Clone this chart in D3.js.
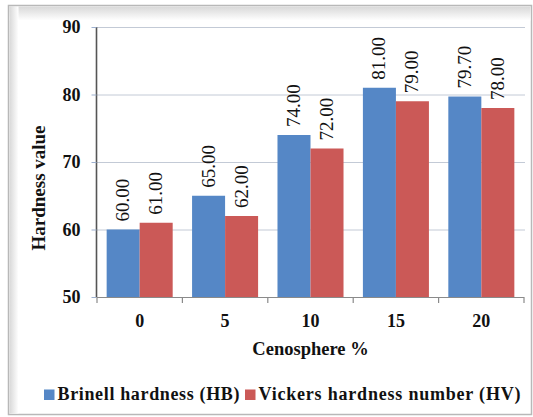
<!DOCTYPE html>
<html>
<head>
<meta charset="utf-8">
<script src="https://cdn.jsdelivr.net/npm/d3@7"></script>
<style>
  html, body { margin: 0; padding: 0; background: #fff; }
  svg { display: block; }
  text { font-family: "Liberation Serif", "Times New Roman", serif; }
</style>
</head>
<body>
<svg id="chart" width="533" height="417"></svg>
<script>
const categories = ["0", "5", "10", "15", "20"];
const seriesNames = ["Brinell hardness (HB)", "Vickers hardness number (HV)"];
const brinell = [60.00, 65.00, 74.00, 81.00, 79.70];
const vickers = [61.00, 62.00, 72.00, 79.00, 78.00];
const labelsHB = ["60.00", "65.00", "74.00", "81.00", "79.70"];
const labelsHV = ["61.00", "62.00", "72.00", "79.00", "78.00"];
const yTicks = [50, 60, 70, 80, 90];
const colors = ["#5587c6", "#cb5957"];

const svg = d3.select("#chart");
const W = 533, H = 417;

// frame with inner shadow
const defs = svg.append("defs");
const gTop = defs.append("linearGradient").attr("id", "shTop").attr("x1", 0).attr("y1", 0).attr("x2", 0).attr("y2", 1);
gTop.append("stop").attr("offset", "0%").attr("stop-color", "#d8d8d8");
gTop.append("stop").attr("offset", "100%").attr("stop-color", "#ffffff");
const gLeft = defs.append("linearGradient").attr("id", "shLeft").attr("x1", 0).attr("y1", 0).attr("x2", 1).attr("y2", 0);
gLeft.append("stop").attr("offset", "0%").attr("stop-color", "#d8d8d8");
gLeft.append("stop").attr("offset", "100%").attr("stop-color", "#ffffff");

svg.append("rect").attr("x", 8.5).attr("y", 5.5).attr("width", 523).attr("height", 409)
  .attr("fill", "#fff").attr("stroke", "#b8b8b8").attr("stroke-width", 1.5);
svg.append("rect").attr("x", 9.5).attr("y", 6.5).attr("width", 521).attr("height", 14).attr("fill", "url(#shTop)");
svg.append("rect").attr("x", 9.5).attr("y", 6.5).attr("width", 9).attr("height", 407).attr("fill", "url(#shLeft)");

const margin = { left: 97, right: 524, top: 27, bottom: 297 };

const x0 = d3.scaleBand().domain(categories).range([margin.left, margin.right])
  .paddingInner(0.227).paddingOuter(0.113);
const x1 = d3.scaleBand().domain([0, 1]).range([0, x0.bandwidth()]);
const y = d3.scaleLinear().domain([50, 90]).range([margin.bottom, margin.top]);

// gridlines
svg.append("g").selectAll("line").data(yTicks.slice(1)).join("line")
  .attr("x1", margin.left).attr("x2", 525)
  .attr("y1", d => y(d) + 0.5).attr("y2", d => y(d) + 0.5)
  .attr("stroke", "#c3cad6").attr("stroke-width", 1);

// y axis
const yAxis = svg.append("g").attr("transform", `translate(${margin.left - 0.5},0)`)
  .call(d3.axisLeft(y).tickValues(yTicks).tickSize(5).tickFormat(d3.format("d")));
yAxis.select(".domain").attr("stroke", "#555").attr("stroke-width", 1.6).attr("d", `M0,${margin.top}V${margin.bottom}`);
yAxis.selectAll(".tick line").attr("stroke", "#9db0cf");
yAxis.selectAll(".tick text").attr("x", -16).attr("font-size", 18).attr("font-weight", "bold")
  .attr("fill", "#111").style("font-family", "Liberation Serif, serif");

// bars
const data = categories.map((c, i) => ({ c, vals: [brinell[i], vickers[i]], labs: [labelsHB[i], labelsHV[i]] }));
const groups = svg.append("g").selectAll("g").data(data).join("g")
  .attr("transform", d => `translate(${x0(d.c)},0)`);
groups.selectAll("rect").data(d => d.vals.map((v, k) => ({ v, k }))).join("rect")
  .attr("x", d => x1(d.k)).attr("width", x1.bandwidth())
  .attr("y", d => y(d.v)).attr("height", d => y(50) - y(d.v))
  .attr("fill", d => colors[d.k]);

// data labels
groups.selectAll("text").data(d => d.vals.map((v, k) => ({ v, k, l: d.labs[k] }))).join("text")
  .attr("transform", d => `translate(${x1(d.k) + x1.bandwidth() / 2 + 6},${y(d.v) - 8}) rotate(-90)`)
  .attr("text-anchor", "start").attr("font-size", 19).attr("fill", "#111")
  .text(d => d.l);

// x axis
const xAxis = svg.append("g").attr("transform", `translate(0,${margin.bottom + 0.5})`)
  .call(d3.axisBottom(x0).tickSize(0).tickPadding(17));
xAxis.select(".domain").attr("stroke", "#8a8a8a").attr("stroke-width", 1.2)
  .attr("d", `M${margin.left},0H${margin.right}`);
xAxis.selectAll(".tick text").attr("font-size", 18).attr("font-weight", "bold").attr("fill", "#111")
  .style("font-family", "Liberation Serif, serif");
// category boundary ticks
const bounds = d3.range(categories.length + 1).map(i => margin.left + i * x0.step() - (i === 0 ? 0 : 0));
svg.append("g").selectAll("line").data(d3.range(categories.length + 1)).join("line")
  .attr("x1", i => margin.left + (margin.right - margin.left) * i / categories.length)
  .attr("x2", i => margin.left + (margin.right - margin.left) * i / categories.length)
  .attr("y1", margin.bottom).attr("y2", margin.bottom + 6)
  .attr("stroke", "#8a8a8a").attr("stroke-width", 1.2);

// axis titles
svg.append("text").attr("x", (margin.left + margin.right) / 2).attr("y", 355)
  .attr("text-anchor", "middle").attr("font-size", 18.5).attr("font-weight", "bold").attr("fill", "#111")
  .text("Cenosphere %");
svg.append("text").attr("transform", `translate(45,188) rotate(-90)`)
  .attr("text-anchor", "middle").attr("font-size", 19).attr("font-weight", "bold").attr("fill", "#111")
  .text("Hardness value");

// legend
const legend = [
  { sx: 44, tx: 57.5, len: 182 },
  { sx: 245, tx: 258.5, len: 262 }
];
legend.forEach((l, k) => {
  svg.append("rect").attr("x", l.sx).attr("y", 389.5).attr("width", 10.5).attr("height", 10.5).attr("fill", colors[k]);
  svg.append("text").attr("x", l.tx).attr("y", 399.5).attr("font-size", 18).attr("font-weight", "bold")
    .attr("fill", "#111").attr("textLength", l.len).attr("lengthAdjust", "spacing")
    .text(seriesNames[k]);
});
</script>
</body>
</html>
